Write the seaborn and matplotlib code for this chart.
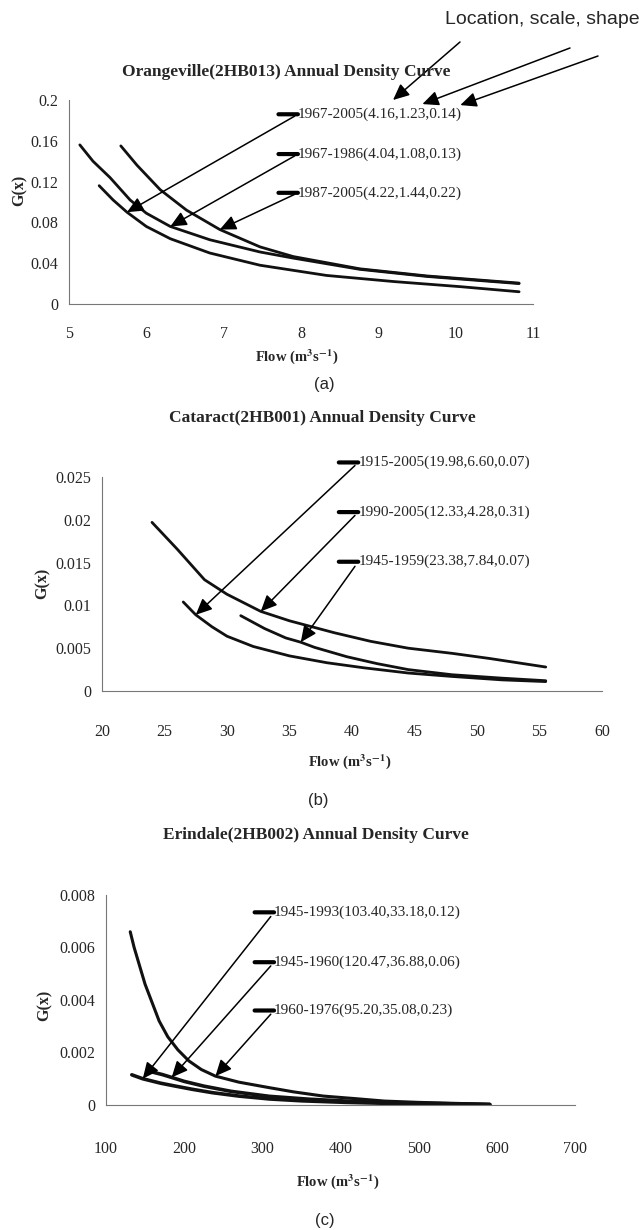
import matplotlib
matplotlib.use("Agg")
import matplotlib.pyplot as plt
import seaborn as sns

# --- (a) Orangeville curves ---
a_x_6786 = [5.14, 5.31, 5.53, 5.79, 6.0, 6.31, 6.82, 7.47, 7.9, 8.76, 9.63, 10.82]
a_g_6786 = [0.156, 0.140, 0.124, 0.102, 0.089, 0.076, 0.063, 0.051, 0.045, 0.034, 0.027, 0.020]
a_x_6705 = [5.39, 5.57, 5.75, 6.0, 6.31, 6.82, 7.47, 8.33, 9.2, 10.06, 10.82]
a_g_6705 = [0.116, 0.102, 0.090, 0.076, 0.064, 0.050, 0.038, 0.028, 0.022, 0.017, 0.012]
a_x_8705 = [5.67, 5.88, 6.18, 6.52, 6.95, 7.47, 7.9, 8.76, 9.63, 10.82]
a_g_8705 = [0.155, 0.136, 0.112, 0.092, 0.073, 0.056, 0.0465, 0.0345, 0.0275, 0.0205]
a_labels = ["1967-2005(4.16,1.23,0.14)", "1967-1986(4.04,1.08,0.13)", "1987-2005(4.22,1.44,0.22)"]
a_xticks = [5, 6, 7, 8, 9, 10, 11]
a_yticks = [0, 0.04, 0.08, 0.12, 0.16, 0.2]
a_yticklabels = ["0", "0.04", "0.08", "0.12", "0.16", "0.2"]

# --- (b) Cataract ---
b_x_1505 = [26.5, 27.5, 28.8, 30, 32.1, 35, 38.0, 41, 44.5, 48, 52, 55.5]
b_g_1505 = [0.0104, 0.0089, 0.0075, 0.0064, 0.0052, 0.0041, 0.0033, 0.0027, 0.0021, 0.0017, 0.0013, 0.0011]
b_x_9005 = [24.0, 26, 28.2, 30, 32.7, 35, 38.6, 41.5, 44.5, 48, 51, 55.5]
b_g_9005 = [0.0197, 0.0166, 0.0130, 0.0113, 0.0093, 0.0082, 0.0068, 0.0058, 0.0050, 0.0044, 0.0038, 0.0028]
b_x_4559 = [31.1, 33, 34.7, 35.9, 37, 39.6, 42, 44.5, 48, 52, 55.5]
b_g_4559 = [0.0088, 0.0073, 0.0062, 0.0057, 0.0051, 0.0040, 0.0032, 0.0025, 0.0019, 0.0015, 0.0012]
b_labels = ["1915-2005(19.98,6.60,0.07)", "1990-2005(12.33,4.28,0.31)", "1945-1959(23.38,7.84,0.07)"]
b_xticks = [20, 25, 30, 35, 40, 45, 50, 55, 60]
b_yticks = [0, 0.005, 0.01, 0.015, 0.02, 0.025]
b_yticklabels = ["0", "0.005", "0.01", "0.015", "0.02", "0.025"]

# --- (c) Erindale ---
c_x_4593 = [133, 147, 170, 187, 210, 236, 270, 309, 350, 407, 450, 500, 550, 591]
c_g_4593 = [0.00115, 0.00100, 0.00083, 0.00073, 0.00060, 0.00047, 0.00034, 0.00023, 0.00016, 0.00010, 0.00007, 0.00005, 0.00003, 0.00001]
c_x_4560 = [160, 172, 184, 200, 225, 260, 309, 360, 407, 450, 500, 550, 591]
c_g_4560 = [0.00125, 0.00116, 0.00105, 0.00090, 0.00072, 0.00052, 0.00033, 0.00022, 0.00015, 0.00010, 0.00007, 0.00004, 0.00002]
c_x_6076 = [131, 136, 142, 150, 159, 168, 179, 192, 206, 222, 240, 270, 309, 340, 378, 420, 456, 500, 550, 591]
c_g_6076 = [0.0066, 0.0060, 0.0054, 0.0046, 0.0039, 0.0032, 0.0026, 0.0021, 0.00168, 0.00135, 0.0011,
            0.00087, 0.00066, 0.0005, 0.00034, 0.00024, 0.00015, 0.0001, 0.00006, 0.00003]
c_labels = ["1945-1993(103.40,33.18,0.12)", "1945-1960(120.47,36.88,0.06)", "1960-1976(95.20,35.08,0.23)"]
c_xticks = [100, 200, 300, 400, 500, 600, 700]
c_yticks = [0, 0.002, 0.004, 0.006, 0.008]
c_yticklabels = ["0", "0.002", "0.004", "0.006", "0.008"]

sns.set_theme(style="white")
plt.rcParams['font.family'] = ['Liberation Serif', 'DejaVu Serif']
plt.rcParams['mathtext.fontset'] = 'stix'

W, H = 643, 1230
fig = plt.figure(figsize=(W / 100, H / 100), dpi=100)


def box(l, r, t, b):
    return [l / W, 1 - b / H, (r - l) / W, (b - t) / H]


def ftext(x, y, s, **kw):
    kw.setdefault('ha', 'center')
    fig.text(x / W, 1 - y / H, s, va='center', **kw)


def style(ax, xticks, yticks, yticklabels, xpad):
    ax.set_xlim(xticks[0], xticks[-1])
    ax.set_ylim(yticks[0], yticks[-1])
    ax.set_xticks(xticks)
    ax.set_xticklabels([str(t) for t in xticks])
    ax.set_yticks(yticks)
    ax.set_yticklabels(yticklabels)
    sns.despine(ax=ax)
    for s in ['left', 'bottom']:
        ax.spines[s].set_color('#777777')
        ax.spines[s].set_linewidth(0.8)
    ax.tick_params(direction='out', length=5, width=0.8, color='#777777', labelsize=11.5, pad=3)
    ax.tick_params(axis='x', pad=xpad)
    ax.set_xlabel('')
    ax.set_ylabel('')


def curve(ax, xs, ys, lw=2.0):
    sns.lineplot(x=xs, y=ys, ax=ax, color='#111111', lw=lw, estimator=None, sort=False, legend=False)


def callout(ax, label, xt, yt, tip):
    ax.annotate('', xy=(xt, yt), xycoords='data', xytext=(-14, 0), textcoords='offset points',
                arrowprops=dict(arrowstyle='-', lw=3, color='black', shrinkA=0, shrinkB=0),
                annotation_clip=False)
    ax.annotate(label, xy=tip, xytext=(xt, yt), ha='left', va='center', fontsize=11,
                annotation_clip=False,
                arrowprops=dict(arrowstyle='-|>,head_length=0.7,head_width=0.32', mutation_scale=14,
                                lw=1.1, color='black', relpos=(0, 0.5), shrinkA=0, shrinkB=0))


# panel (a)
ax_a = fig.add_axes(box(69, 533, 100, 304))
curve(ax_a, a_x_6786, a_g_6786)
curve(ax_a, a_x_6705, a_g_6705)
curve(ax_a, a_x_8705, a_g_8705)
style(ax_a, a_xticks, a_yticks, a_yticklabels, 11)
callout(ax_a, a_labels[0], 7.96, 0.186, (a_x_6705[2], a_g_6705[2]))
callout(ax_a, a_labels[1], 7.96, 0.147, (a_x_6786[5], a_g_6786[5]))
callout(ax_a, a_labels[2], 7.96, 0.109, (a_x_8705[4], a_g_8705[4]))

# "Location, scale, shape" arrows to the numbers of the first label
for tip, tail in [((9.19, 0.200), (460, 42)), ((9.57, 0.196), (570, 48)), ((10.06, 0.195), (598, 56))]:
    ax_a.annotate('', xy=tip, xycoords='data', xytext=(tail[0], H - tail[1]), textcoords='figure pixels',
                  annotation_clip=False,
                  arrowprops=dict(arrowstyle='-|>,head_length=0.7,head_width=0.32', mutation_scale=14,
                                  lw=1.1, color='black', shrinkA=0, shrinkB=0))

# panel (b)
ax_b = fig.add_axes(box(102, 602, 477, 691))
curve(ax_b, b_x_1505, b_g_1505)
curve(ax_b, b_x_9005, b_g_9005)
curve(ax_b, b_x_4559, b_g_4559)
style(ax_b, b_xticks, b_yticks, b_yticklabels, 19)
callout(ax_b, b_labels[0], 40.5, 0.0267, (b_x_1505[1], b_g_1505[1]))
callout(ax_b, b_labels[1], 40.5, 0.0209, (b_x_9005[4], b_g_9005[4]))
callout(ax_b, b_labels[2], 40.5, 0.0151, (b_x_4559[3], b_g_4559[3]))

# panel (c)
ax_c = fig.add_axes(box(106, 575, 895, 1105))
curve(ax_c, c_x_4593, c_g_4593, 2.6)
curve(ax_c, c_x_4560, c_g_4560, 2.6)
curve(ax_c, c_x_6076, c_g_6076, 2.2)
style(ax_c, c_xticks, c_yticks, c_yticklabels, 21)
callout(ax_c, c_labels[0], 315, 0.00734, (c_x_4593[1], c_g_4593[1]))
callout(ax_c, c_labels[1], 315, 0.00544, (c_x_4560[2], c_g_4560[2]))
callout(ax_c, c_labels[2], 315, 0.0036, (c_x_6076[10], c_g_6076[10]))

# titles, axis labels, panel tags
ftext(640, 20, "Location, scale, shape", family='Liberation Sans', fontsize=14, ha='right')
ftext(286, 72, "Orangeville(2HB013) Annual Density Curve", fontsize=12.5, fontweight='bold')
ftext(322, 418, "Cataract(2HB001) Annual Density Curve", fontsize=12.5, fontweight='bold')
ftext(316, 835, "Erindale(2HB002) Annual Density Curve", fontsize=12.5, fontweight='bold')

flow = r"Flow (m$^{\mathbf{3}}$s$^{\mathbf{-1}}$)"
ftext(297, 357, flow, fontsize=10.5, fontweight='bold')
ftext(350, 762, flow, fontsize=10.5, fontweight='bold')
ftext(338, 1182, flow, fontsize=10.5, fontweight='bold')

ftext(20, 190, "G(x)", fontsize=11.5, fontweight='bold', rotation=90)
ftext(43, 583, "G(x)", fontsize=11.5, fontweight='bold', rotation=90)
ftext(45, 1005, "G(x)", fontsize=11.5, fontweight='bold', rotation=90)

ftext(324, 384, "(a)", family='Liberation Sans', fontsize=12)
ftext(318, 800, "(b)", family='Liberation Sans', fontsize=12)
ftext(325, 1220, "(c)", family='Liberation Sans', fontsize=12)

fig.savefig("out.png", dpi=100)
